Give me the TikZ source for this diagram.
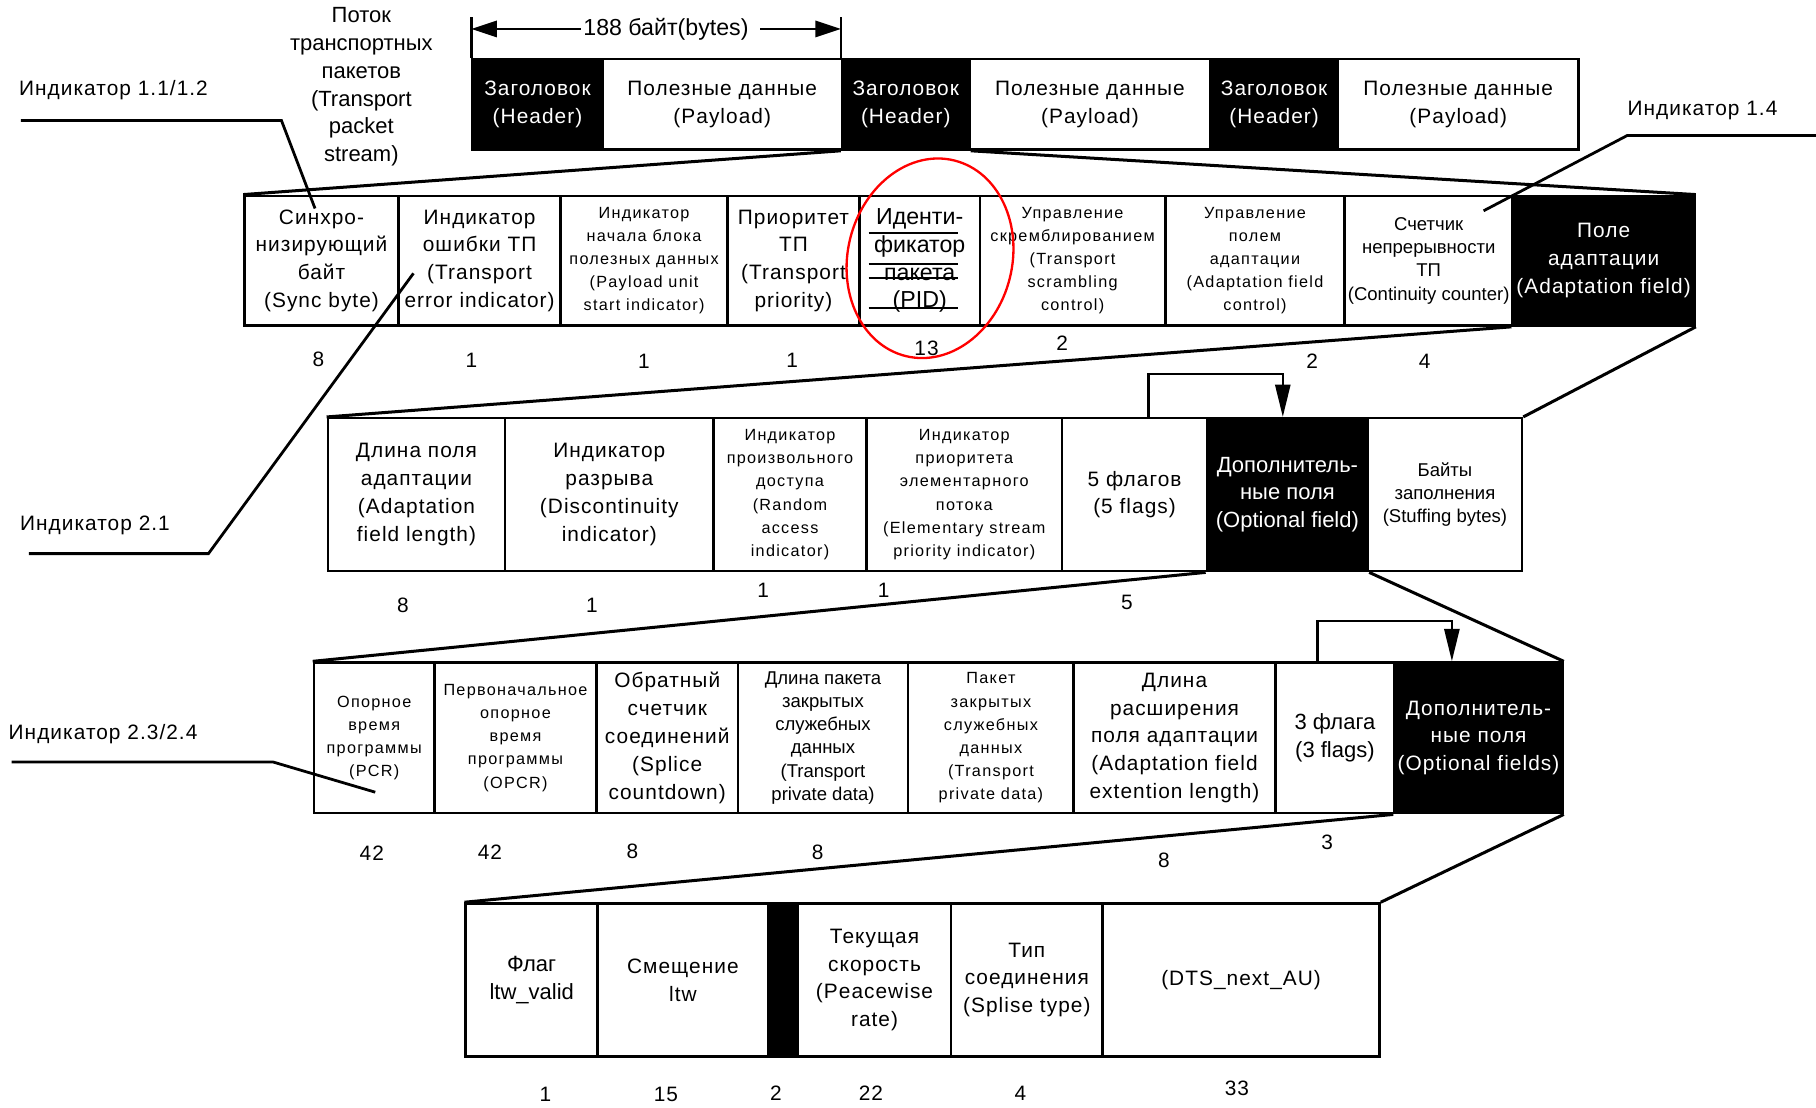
\documentclass[tikz,border=0pt]{standalone}
\usepackage{fontspec}
\setmainfont{Liberation Sans}
\newfontfamily\spc{Liberation Sans}[LetterSpace=5]
\newfontfamily\spcs{Liberation Sans}[LetterSpace=8]
\usetikzlibrary{arrows.meta}
\newcommand{\bigf}{\spc\fontsize{18}{24}\selectfont}
\newcommand{\plainf}{\fontsize{19}{24}\selectfont}
\newcommand{\midf}{\fontsize{16}{20}\selectfont}
\newcommand{\smf}{\spcs\fontsize{14}{20}\selectfont}
\newcommand{\numf}{\spc\fontsize{18}{20}\selectfont}
\newcommand{\indf}{\spc\fontsize{18}{20}\selectfont}

\begin{document}
\begin{tikzpicture}[x=1pt,y=-1pt,
    cell/.style={draw, line width=2.2pt, anchor=north west, inner sep=0pt, align=center, font=\bigf},
    dark/.style={cell, fill=black, text=white},
    bits/.style={font=\numf},
    ind/.style={font=\indf},
    leader/.style={line width=2.4pt},
    zoomline/.style={line width=2.6pt},
    flagarrow/.style={line width=2.2pt, -{Triangle[length=28pt,width=13pt]}},
    dimarrow/.style={line width=2.2pt, -{Triangle[length=22pt,width=14pt]}}]
\useasboundingbox (0,0) rectangle (1568,956);

% transport packet stream
\node[align=center, font=\fontsize{19}{24}\selectfont] (stream) at (312,75) {Поток\\транспортных\\пакетов\\(Transport\\packet\\stream)};
\node[dark, minimum width=112pt, minimum height=78pt] (hdrA) at (407,50) {Заголовок\\(Header)};
\node[cell, minimum width=207pt, minimum height=78pt] (payA) at (519,50) {Полезные данные\\(Payload)};
\node[dark, minimum width=110pt, minimum height=78pt] (hdrB) at (726,50) {Заголовок\\(Header)};
\node[cell, minimum width=208pt, minimum height=78pt] (payB) at (836,50) {Полезные данные\\(Payload)};
\node[dark, minimum width=110pt, minimum height=78pt] (hdrC) at (1044,50) {Заголовок\\(Header)};
\node[cell, minimum width=208pt, minimum height=78pt] (payC) at (1154,50) {Полезные данные\\(Payload)};

% 188 bytes
\draw[line width=2.2pt] (hdrA.north west) -- ++(0,-35) coordinate (tickL);
\draw[line width=2.2pt] (hdrB.north west) -- ++(0,-35) coordinate (tickR);
\node[font=\fontsize{20}{22}\selectfont, inner sep=2pt] (len) at (575,25) {188 байт(bytes)};
\draw[dimarrow] (len.west) -- (len.west -| tickL);
\draw[dimarrow] ([xshift=8pt]len.east) -- (len.east -| tickR);

% header fields
\node[cell, minimum width=133pt, minimum height=112pt] (sync) at (210,168) {Синхро-\\низирующий\\байт\\(Sync byte)};
\node[cell, minimum width=140pt, minimum height=112pt] (tei) at (343,168) {Индикатор\\ошибки ТП\\(Transport\\error indicator)};
\node[cell, minimum width=144pt, minimum height=112pt, font=\smf] (pusi) at (483,168) {Индикатор\\начала блока\\полезных данных\\(Payload unit\\start indicator)};
\node[cell, minimum width=114pt, minimum height=112pt] (tpri) at (627,168) {Приоритет\\ТП\\(Transport\\priority)};
\node[cell, minimum width=104pt, minimum height=112pt, font=\fontsize{20}{24}\selectfont] (pid) at (741,168) {Иденти-\\фикатор\\пакета\\(PID)};
\node[cell, minimum width=160pt, minimum height=112pt, font=\smf] (tsc) at (845,168) {Управление\\скремблированием\\(Transport\\scrambling\\control)};
\node[cell, minimum width=155pt, minimum height=112pt, font=\smf] (afc) at (1005,168) {Управление\\полем\\адаптации\\(Adaptation field\\control)};
\node[cell, minimum width=145pt, minimum height=112pt, font=\midf] (cc) at (1160,168) {Счетчик\\непрерывности\\ТП\\(Continuity counter)};
\node[dark, minimum width=157pt, minimum height=112pt] (adapt) at (1305,168) {Поле\\адаптации\\(Adaptation field)};
\draw[zoomline] (hdrB.south west) -- (sync.north west);
\draw[zoomline] (hdrB.south east) -- (adapt.north east);
\draw[line width=1.6pt] (750,201) -- (827,201);
\draw[line width=1.6pt] (750,228) -- (827,228);
\draw[line width=1.6pt] (750,240) -- (827,240);
\draw[line width=1.6pt] (750,266) -- (827,266);
\node[bits] (nSync) at (275,310) {8};
\node[bits] (nTei) at (407,311) {1};
\node[bits] (nPusi) at (556,312) {1};
\node[bits] (nTpri) at (684,311) {1};
\node[bits] (nPid) at (800,301) {13};
\node[bits] (nTsc) at (917,296) {2};
\node[bits] (nAfc) at (1133,312) {2};
\node[bits] (nCc) at (1230,312) {4};

% adaptation field
\node[cell, minimum width=153pt, minimum height=132pt] (aflen) at (282,360) {Длина поля\\адаптации\\(Adaptation\\field length)};
\node[cell, minimum width=180pt, minimum height=132pt] (disc) at (435,360) {Индикатор\\разрыва\\(Discontinuity\\indicator)};
\node[cell, minimum width=132pt, minimum height=132pt, font=\smf] (rai) at (615,360) {Индикатор\\произвольного\\доступа\\(Random\\access\\indicator)};
\node[cell, minimum width=169pt, minimum height=132pt, font=\smf] (espi) at (747,360) {Индикатор\\приоритета\\элементарного\\потока\\(Elementary stream\\priority indicator)};
\node[cell, minimum width=125pt, minimum height=132pt] (flagsF) at (916,360) {5 флагов\\(5 flags)};
\node[dark, minimum width=139pt, minimum height=132pt, font=\plainf] (optF) at (1041,360) {Дополнитель-\\ные поля\\(Optional field)};
\node[cell, minimum width=133pt, minimum height=132pt, font=\midf] (stuff) at (1180,360) {Байты\\заполнения\\(Stuffing bytes)};
\draw[zoomline] (adapt.south west) -- (aflen.north west);
\draw[zoomline] (adapt.south east) -- (stuff.north east);
\draw[flagarrow] ([xshift=12pt]flagsF.north) -- ++(0,-37) -| ([xshift=-4pt]optF.north);
\node[bits] (nAflen) at (348,523) {8};
\node[bits] (nDisc) at (511,523) {1};
\node[bits] (nRai) at (659,510) {1};
\node[bits] (nEspi) at (763,510) {1};
\node[bits] (nFlagsF) at (973,520) {5};

% optional fields
\node[cell, minimum width=104pt, minimum height=130pt, font=\smf] (pcr) at (270,571) {Опорное\\время\\программы\\(PCR)};
\node[cell, minimum width=140pt, minimum height=130pt, font=\smf] (opcr) at (374,571) {Первоначальное\\опорное\\время\\программы\\(OPCR)};
\node[cell, minimum width=122pt, minimum height=130pt] (splice) at (514,571) {Обратный\\счетчик\\соединений\\(Splice\\countdown)};
\node[cell, minimum width=147pt, minimum height=130pt, font=\midf] (tpdlen) at (636,571) {Длина пакета\\закрытых\\служебных\\данных\\(Transport\\private data)};
\node[cell, minimum width=143pt, minimum height=130pt, font=\smf] (tpd) at (783,571) {Пакет\\закрытых\\служебных\\данных\\(Transport\\private data)};
\node[cell, minimum width=174pt, minimum height=130pt] (afext) at (926,571) {Длина\\расширения\\поля адаптации\\(Adaptation field\\extention length)};
\node[cell, minimum width=103pt, minimum height=130pt, font=\plainf] (flagsT) at (1100,571) {3 флага\\(3 flags)};
\node[dark, minimum width=145pt, minimum height=130pt] (optT) at (1203,571) {Дополнитель-\\ные поля\\(Optional fields)};
\draw[zoomline] (optF.south west) -- (pcr.north west);
\draw[zoomline] (optF.south east) -- (optT.north east);
\draw[flagarrow] ([xshift=-15pt]flagsT.north) -- ++(0,-35) -| ([xshift=-23pt]optT.north);
\node[bits] (nPcr) at (321,737) {42};
\node[bits] (nOpcr) at (423,736) {42};
\node[bits] (nSplice) at (546,735) {8};
\node[bits] (nTpdlen) at (706,736) {8};
\node[bits] (nAfext) at (1005,743) {8};
\node[bits] (nFlagsT) at (1146,727) {3};

% ltw, rate, splice type, DTS
\node[cell, minimum width=114pt, minimum height=132pt, font=\plainf] (ltwflag) at (401,779) {Флаг\\ltw\_valid};
\node[cell, minimum width=147pt, minimum height=132pt] (ltwoff) at (515,779) {Смещение\\ltw};
\node[dark, minimum width=26pt, minimum height=132pt] (resv) at (662,779) {};
\node[cell, minimum width=132pt, minimum height=132pt] (rate) at (688,779) {Текущая\\скорость\\(Peacewise\\rate)};
\node[cell, minimum width=131pt, minimum height=132pt] (splt) at (820,779) {Тип\\соединения\\(Splise type)};
\node[cell, minimum width=239pt, minimum height=132pt] (dts) at (951,779) {(DTS\_next\_AU)};
\draw[zoomline] (optT.south west) -- (ltwflag.north west);
\draw[zoomline] (optT.south east) -- (dts.north east);
\node[bits] (nLtwflag) at (471,945) {1};
\node[bits] (nLtwoff) at (575,945) {15};
\node[bits] (nResv) at (670,944) {2};
\node[bits] (nRate) at (752,944) {22};
\node[bits] (nSplt) at (881,944) {4};
\node[bits] (nDts) at (1068,940) {33};

% indicators
\node[ind] (ind11) at (98,78) {Индикатор 1.1/1.2};
\coordinate (l11a) at (18,104);
\coordinate (l11b) at (243,104);
\coordinate (l11c) at (272,180);
\draw[leader] (l11a) -- (l11b) -- (l11c);
\node[ind] (ind14) at (1470,95) {Индикатор 1.4};
\coordinate (l14a) at (1568,117);
\coordinate (l14b) at (1405,117);
\coordinate (l14c) at (1281,182);
\draw[leader] (l14a) -- (l14b) -- (l14c);
\node[ind] (ind21) at (82,454) {Индикатор 2.1};
\coordinate (l21a) at (25,478);
\coordinate (l21b) at (180,478);
\coordinate (l21c) at (357,236);
\draw[leader] (l21a) -- (l21b) -- (l21c);
\node[ind] (ind23) at (89,634) {Индикатор 2.3/2.4};
\coordinate (l23a) at (10,658);
\coordinate (l23b) at (236,658);
\coordinate (l23c) at (324,684);
\draw[leader] (l23a) -- (l23b) -- (l23c);

% PID mark
\draw[red, line width=2pt, rotate around={-14:(803,223)}] (803,223) ellipse [x radius=71pt, y radius=87pt];
\end{tikzpicture}
\end{document}
